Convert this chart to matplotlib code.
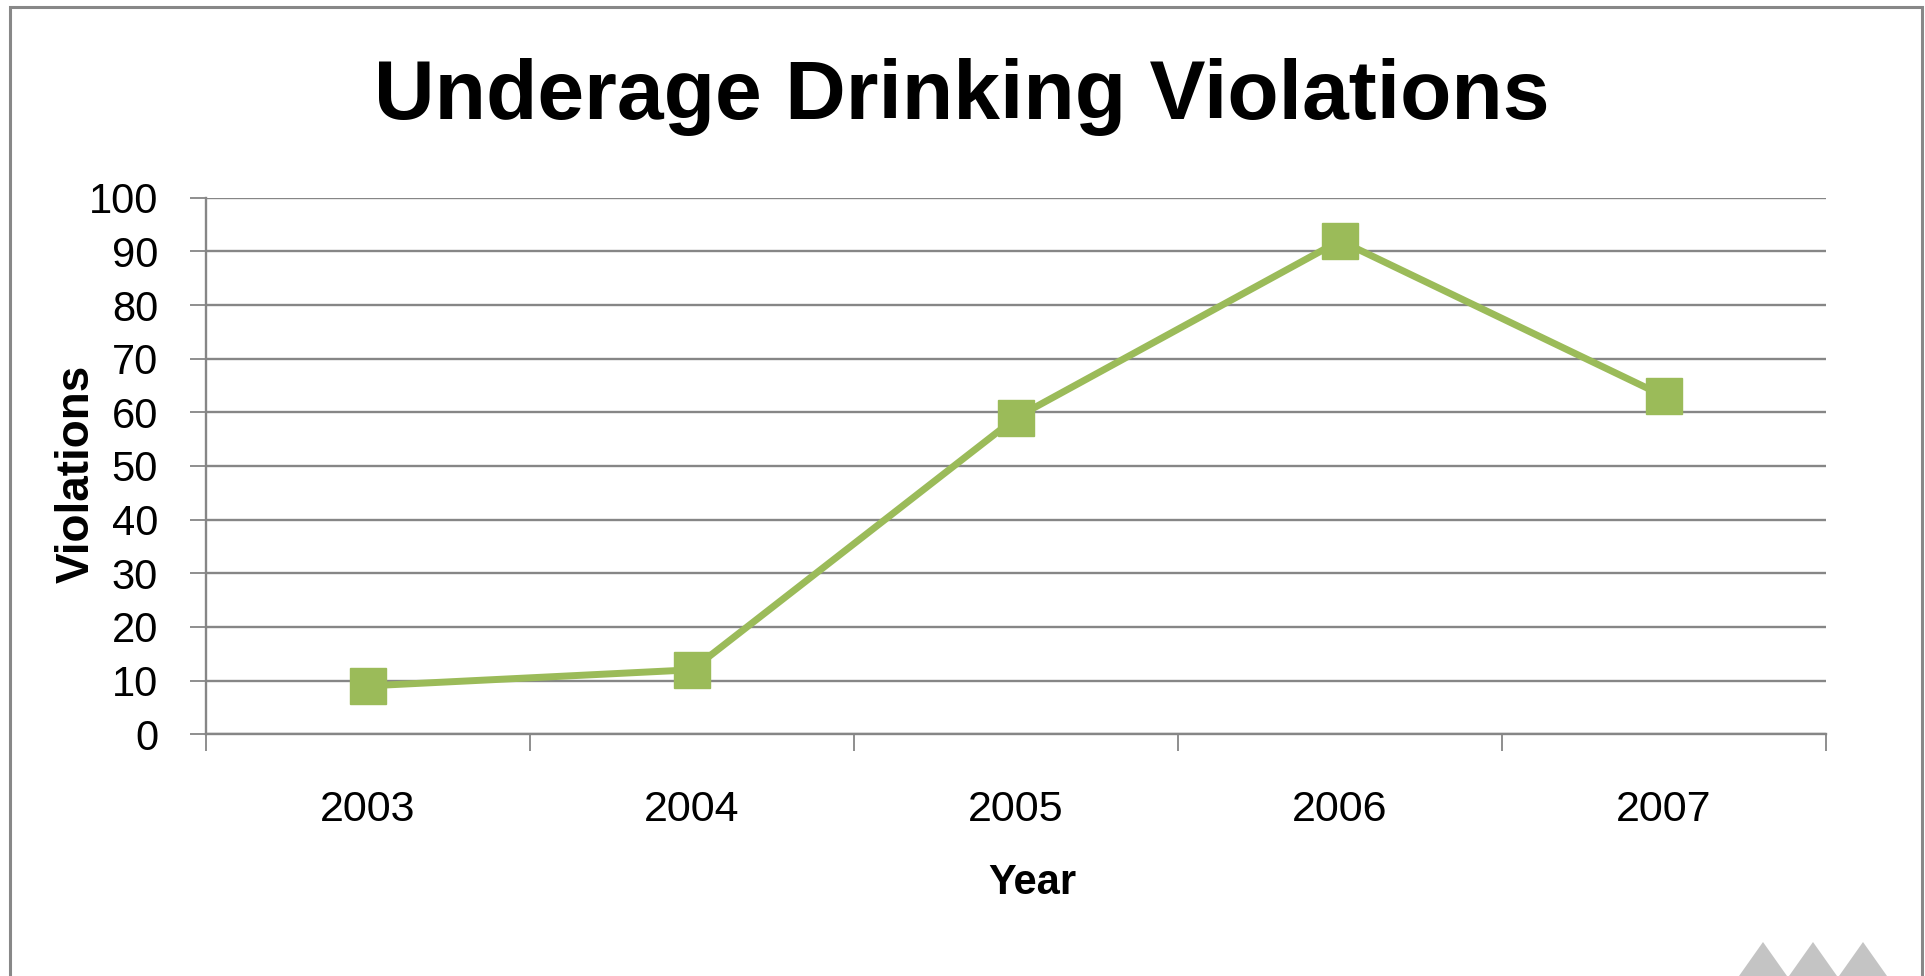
import matplotlib.pyplot as plt
from matplotlib.patches import Rectangle, Polygon

# data
years = ["2003", "2004", "2005", "2006", "2007"]
violations = [9, 12, 59, 92, 63]
y_ticks = list(range(0, 101, 10))

green = "#9BBB59"
grid_gray = "#868686"

plt.rcParams["font.family"] = ["Liberation Sans", "DejaVu Sans"]

fig = plt.figure(figsize=(19.25, 9.76), dpi=100)
fig.patch.set_facecolor("white")

# outer frame of the chart area
fig.patches.append(Rectangle((10 / 1925, -0.05), 1912 / 1925, 1.05 - 7 / 976,
                             transform=fig.transFigure, fill=False,
                             edgecolor="#888888", linewidth=2.2))

ax = fig.add_axes([0.107, 0.2478, 0.8416, 0.5496])

x = list(range(len(years)))
ax.plot(x, violations, color=green, linewidth=5, marker="s",
        markersize=26, markerfacecolor=green, markeredgecolor=green, zorder=3)

ax.set_xlim(-0.5, len(years) - 0.5)
ax.set_ylim(0, 100)
ax.set_yticks(y_ticks)
ax.yaxis.grid(True, color=grid_gray, linewidth=1.7)
ax.set_axisbelow(True)

# category boundaries as ticks, year labels in between
ax.set_xticks([i - 0.5 for i in range(len(years) + 1)])
ax.set_xticklabels([])
ax.set_xticks(x, minor=True)
ax.set_xticklabels(years, minor=True, fontsize=31)
ax.tick_params(axis="x", which="major", length=12, width=1.3, color=grid_gray)
ax.tick_params(axis="x", which="minor", length=0, pad=40)
ax.tick_params(axis="y", length=11.5, width=1.3, color=grid_gray,
               labelsize=30, pad=23)

for side in ["top", "right"]:
    ax.spines[side].set_visible(False)
for side in ["left", "bottom"]:
    ax.spines[side].set_color(grid_gray)
    ax.spines[side].set_linewidth(1.7)

ax.set_ylabel("Violations", fontsize=33, fontweight="bold")
ax.yaxis.set_label_coords(-0.066, 0.486)
ax.set_xlabel("Year", fontsize=30, fontweight="bold")
ax.xaxis.set_label_coords(0.510, -0.240)

fig.text(0.4995, 0.901, "Underage Drinking Violations", fontsize=60.5,
         fontweight="bold", ha="center", va="center")

# faded logo in the lower right corner
for cx in [1763, 1813, 1863]:
    pts = [((cx - 24) / 1925, 0), (cx / 1925, 1 - 942 / 976), ((cx + 24) / 1925, 0)]
    fig.patches.append(Polygon(pts, closed=True, transform=fig.transFigure,
                               facecolor="#c4c4c4", edgecolor="none"))

fig.savefig("out.png", dpi=100)
